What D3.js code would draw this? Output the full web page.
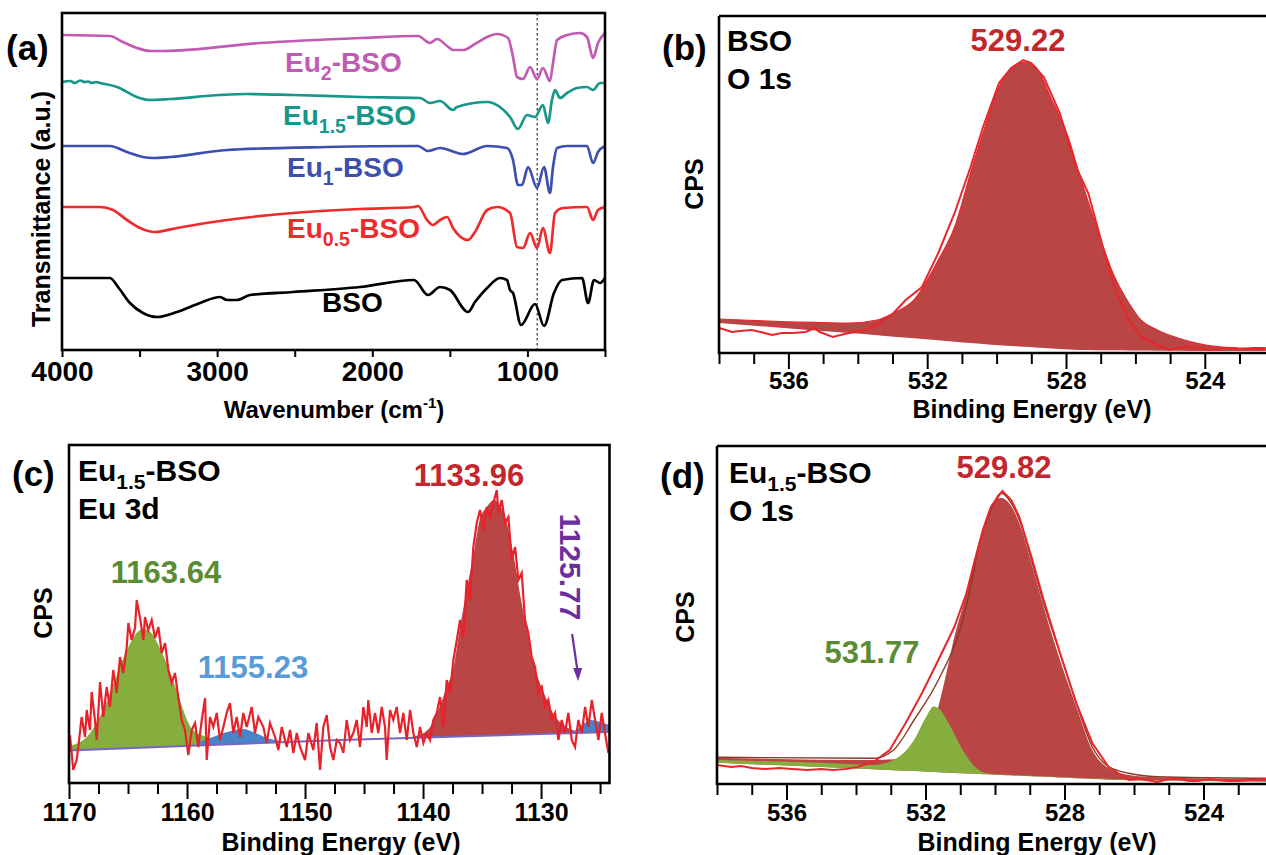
<!DOCTYPE html>
<html>
<head>
<meta charset="utf-8">
<script src="https://cdn.jsdelivr.net/npm/d3@7"></script>
<style>
  body { margin: 0; background: #fff; }
  svg text { font-family: "Liberation Sans", Arial, Helvetica, sans-serif; font-weight: bold; }
</style>
</head>
<body>
<svg id="fig" width="1266" height="855"></svg>
<script>
// ---------- (a) FTIR spectra: [wavenumber cm-1, transmittance a.u. (stacked)] ----------
const ftirEu2 = [[4000,315],[3691,314],[3607,308],[3517,302],[3433,299],[3349,299],[2724,307],[2079,312],[1705,314],[1628,307],[1583,311],[1518,304],[1480,300],[1415,300],[1338,306],[1260,313],[1196,316],[1125,312],[1093,293],[1067,273],[1028,271],[983,283],[938,271],[900,282],[855,269],[835,287],[809,310],[745,315],[661,317],[616,313],[577,292],[545,307],[500,317]];
const ftirEu15 = [[4000,268],[3948,269],[3916,267],[3884,269.5],[3852,268],[3832,268.5],[3807,267],[3781,268],[3755,267],[3645,263],[3517,253],[3433,250],[3304,251],[2982,255],[2808,256],[2511,255],[2079,253],[1692,252],[1628,247],[1563,249],[1480,240],[1454,243],[1260,248],[1177,243],[1112,233],[1061,221],[1003,235],[951,233],[900,245],[867,227],[842,250],[822,260],[790,252],[745,257],[680,262],[616,263],[577,260],[532,267],[500,267]];
const ftirEu1 = [[4000,204],[3691,204],[3581,198],[3478,193],[3413,192],[3304,193],[2936,200],[2292,203],[1705,204],[1641,199],[1563,202],[1415,196],[1260,204],[1132,202],[1093,190],[1061,165],[1035,165],[996,183],[938,162],[893,183],[855,157],[835,183],[809,202],[745,204],[616,204],[577,187],[545,198],[500,204]];
const ftirEu05 = [[4000,143],[3755,143],[3671,140],[3581,130],[3497,122],[3401,118],[3259,122],[2936,130],[2511,137],[2079,141],[1731,143],[1705,144],[1647,130],[1609,125],[1563,130],[1518,133],[1480,122],[1383,110],[1338,118],[1260,140],[1196,143],[1112,137],[1067,103],[1028,102],[983,117],[938,102],[900,122],[855,97],[822,137],[771,142],[616,143],[577,130],[545,140],[500,143]];
const ftirBSO = [[4000,72],[3691,72],[3639,63],[3562,47],[3478,37],[3388,33],[3259,38],[3110,47],[2982,53],[2936,50],[2872,50],[2788,55],[2511,58],[2079,63],[1731,70],[1641,55],[1563,63],[1499,60],[1383,38],[1338,48],[1260,62],[1177,72],[1132,70],[1112,60],[1093,57],[1041,25],[951,46],[893,24],[829,57],[777,70],[648,72],[609,47],[571,70],[532,67],[500,72]];
const ftirMarker = 937;
const ftirMajorTicks = [4000, 3000, 2000, 1000];
const ftirMinorTicks = [3500, 2500, 1500, 500];

// ---------- (b) BSO O 1s ----------
const bsoO1sBackground = [[538.0,30],[533.55,18],[530.05,8],[527.71,3],[523.97,2],[522.24,2]];
const bsoO1sFit = [[538.0,34],[534.25,30],[533.44,33],[532.97,40],[532.38,53],[531.68,93],[531.21,126],[530.75,180],[530.39,220],[529.93,266],[529.46,288],[529.22,291],[528.88,286],[528.41,253],[527.94,216],[527.59,176],[527.12,126],[526.65,80],[526.19,50],[525.84,33],[525.37,23],[524.78,15],[523.97,8],[523.03,5],[522.24,4]];
const bsoO1sRaw = [[538.0,25],[537.8,23],[537.64,21],[537.4,22],[537.06,23],[536.8,21],[536.47,18],[536.2,20],[535.89,20],[535.5,21],[535.25,25],[535.1,21],[534.72,16],[534.5,18],[534.25,20],[533.79,23],[533.32,31],[532.97,40],[532.62,53],[532.15,66],[531.68,100],[531.21,140],[530.75,186],[530.39,226],[529.93,270],[529.58,285],[529.23,293],[529.0,290],[528.64,276],[528.18,240],[527.71,186],[527.36,160],[526.89,100],[526.54,60],[526.19,33],[525.84,16],[525.49,10],[525.02,3],[524.6,6],[524.2,5],[523.8,3],[523.4,5],[523.0,4],[522.6,5],[522.24,5]];

// ---------- (c) Eu1.5-BSO Eu 3d ----------
const eu3dBackground = [[1170,32.5],[1147,43],[1124.2,51]];
const eu3dPeak1163 = [[1170,37],[1168.5,46],[1167.4,66],[1166.5,90],[1165.7,116],[1164.8,140],[1164.2,151],[1163.64,154],[1163.1,151],[1162.3,135],[1161.4,110],[1160.6,83],[1160.0,63],[1159.5,53],[1158.3,46],[1157.2,43],[1156,41.5]];
const eu3dPeak1155 = [[1159,41],[1157.8,46],[1156.6,51],[1155.23,54],[1154.4,51],[1153.2,45],[1152.1,42]];
const eu3dPeak1134 = [[1141.5,45.5],[1140.3,48],[1139.4,56],[1138.6,76],[1138.0,96],[1137.4,116],[1136.9,153],[1136.3,193],[1135.7,230],[1135.2,263],[1134.6,276],[1133.96,283],[1133.5,278],[1132.9,260],[1132.3,226],[1131.8,190],[1131.2,153],[1130.7,123],[1130.1,100],[1129.5,83],[1129.0,70],[1128.1,58],[1127.0,52],[1126.0,50.8]];
const eu3dPeak1126 = [[1128,49.8],[1127,53],[1126.3,60],[1125.77,63],[1125,61],[1124.2,58]];
const eu3dRaw = [[1169.92,48],[1169.64,13],[1169.35,23],[1169.21,36],[1168.93,66],[1168.64,46],[1168.5,73],[1168.22,53],[1168.08,91],[1167.8,63],[1167.65,43],[1167.37,101],[1167.09,66],[1166.81,96],[1166.53,76],[1166.25,113],[1165.96,90],[1165.68,126],[1165.4,110],[1165.11,136],[1164.97,160],[1164.69,143],[1164.41,155],[1164.26,183],[1163.98,165],[1163.7,143],[1163.56,166],[1163.28,153],[1162.99,163],[1162.71,145],[1162.43,156],[1162.14,130],[1161.86,140],[1161.58,113],[1161.3,100],[1161.02,110],[1160.74,86],[1160.45,63],[1160.17,53],[1159.89,28],[1159.6,53],[1159.32,60],[1159.04,36],[1158.75,63],[1158.47,85],[1158.33,23],[1158.05,66],[1157.77,56],[1157.48,70],[1157.2,43],[1156.92,56],[1156.64,70],[1156.36,80],[1156.08,50],[1155.79,66],[1155.51,46],[1155.23,70],[1154.94,56],[1154.52,76],[1154.24,50],[1153.96,66],[1153.53,56],[1153.25,40],[1152.97,60],[1152.54,46],[1152.26,33],[1151.97,56],[1151.55,36],[1151.27,53],[1150.99,30],[1150.7,50],[1150.42,36],[1150.0,23],[1149.72,50],[1149.3,33],[1149.01,60],[1148.73,13],[1148.45,56],[1148.16,68],[1147.88,36],[1147.6,23],[1147.31,43],[1147.03,40],[1146.75,30],[1146.47,63],[1146.19,43],[1145.91,50],[1145.62,63],[1145.34,36],[1145.06,76],[1144.77,56],[1144.64,83],[1144.35,50],[1144.07,70],[1143.79,50],[1143.5,76],[1143.22,56],[1143.08,23],[1142.8,73],[1142.52,63],[1142.23,76],[1141.95,50],[1141.67,70],[1141.38,43],[1141.1,73],[1140.82,50],[1140.53,36],[1140.25,56],[1139.97,40],[1139.69,50],[1139.41,43],[1139.13,63],[1138.84,70],[1138.56,86],[1138.28,56],[1137.99,103],[1137.71,90],[1137.43,123],[1137.14,143],[1136.86,163],[1136.58,146],[1136.3,203],[1136.02,183],[1135.74,236],[1135.45,260],[1135.17,273],[1134.89,253],[1134.6,276],[1134.32,266],[1134.04,280],[1133.75,293],[1133.62,270],[1133.33,283],[1133.05,260],[1132.77,266],[1132.48,223],[1132.2,236],[1131.92,203],[1131.64,210],[1131.36,163],[1131.08,150],[1130.79,126],[1130.51,116],[1130.23,90],[1129.94,96],[1129.66,76],[1129.38,83],[1129.09,63],[1128.81,70],[1128.53,43],[1128.25,63],[1127.97,50],[1127.69,70],[1127.4,43],[1127.12,36],[1126.84,63],[1126.55,50],[1126.27,76],[1125.99,56],[1125.7,83],[1125.42,63],[1125.14,43],[1124.86,70],[1124.58,50],[1124.3,30]];

// ---------- (d) Eu1.5-BSO O 1s ----------
const euO1sBackground = [[538.0,21.3],[533.5,14.7],[530.0,9.3],[526.5,4],[522.2,2.3]];
const euO1sPeak529 = [[538.0,26.3],[533.5,24],[532.33,26.7],[531.87,47.3],[531.63,77.3],[531.4,110.7],[531.17,147.3],[530.93,177.3],[530.7,207.3],[530.47,237.3],[530.23,267.3],[530.0,284],[529.82,286],[529.59,280.7],[529.3,260.7],[528.95,220.7],[528.6,177.3],[528.13,124],[527.66,77.3],[527.2,34],[526.73,15.7],[526.15,9],[525.33,6.7],[522.2,4.7]];
const euO1sPeak531 = [[538.0,24],[534.67,20.7],[533.5,19],[532.92,24],[532.33,44],[531.98,67.3],[531.77,77.5],[531.63,75.7],[531.28,57.3],[530.93,34],[530.58,17.3],[530.23,10.7],[529.42,9],[527.66,6.2],[522.2,2.3]];
const euO1sEnvelope = [[538.0,26.7],[533.5,25.7],[532.92,34],[532.33,64],[531.63,104],[530.93,164],[530.7,197.3],[530.47,237.3],[530.12,274],[529.82,290.7],[529.53,280.7],[529.3,264],[528.95,224],[528.6,180.7],[528.13,130.7],[527.66,80.7],[527.2,37.3],[526.73,17.3],[526.15,10.7],[525.33,7.3],[522.2,5.7]];
const euO1sRaw = [[538.0,19],[537.8,18],[537.59,17],[537.3,18],[537.0,16],[536.6,15],[536.2,16],[535.84,15],[535.4,14],[535.0,15],[534.67,14],[534.3,15],[533.97,17],[533.5,22],[533.03,34],[532.57,61],[532.1,91],[531.63,124],[531.17,157],[530.82,191],[530.58,224],[530.35,254],[530.12,277],[529.79,293],[529.53,284],[529.3,267],[528.95,227],[528.6,184],[528.13,131],[527.66,81],[527.2,41],[526.73,17],[526.38,9],[526.15,4],[525.8,5],[525.33,2],[525.0,5],[524.75,5],[524.4,3],[524.16,3],[523.8,5],[523.58,4],[523.3,3],[523.0,3],[522.6,4],[522.2,5]];

const o1sMajorTicks = [536, 532, 528, 524];
const o1sMinorTicks = [538, 537, 535, 534, 533, 531, 530, 529, 527, 526, 525, 523];
const eu3dMajorTicks = [1170, 1160, 1150, 1140, 1130];
const eu3dMinorTicks = [1167.5, 1165, 1162.5, 1157.5, 1155, 1152.5, 1147.5, 1145, 1142.5, 1137.5, 1135, 1132.5, 1127.5, 1125];

// ---------- drawing helpers ----------
const W = 1266, H = 855;
const FONT = '"Liberation Sans", Arial, sans-serif';
const svg = d3.select("#fig");
svg.append("rect").attr("width", W).attr("height", H).attr("fill", "#fff");

// linear lookup in a [x, y] table (background under fitted peaks)
function lookup(table, xv) {
  const s = table.slice().sort((a, b) => a[0] - b[0]);
  if (xv <= s[0][0]) return s[0][1];
  for (let i = 1; i < s.length; i++) {
    if (xv <= s[i][0]) {
      const t = (xv - s[i - 1][0]) / (s[i][0] - s[i - 1][0]);
      return s[i - 1][1] + t * (s[i][1] - s[i - 1][1]);
    }
  }
  return s[s.length - 1][1];
}

function bottomAxis(g, x, y0, major, minor, cfg) {
  const styleLines = s => s.selectAll("line").attr("stroke", "#000").attr("stroke-width", 2);
  g.append("g").attr("transform", `translate(0,${y0})`)
    .call(d3.axisBottom(x).tickValues(minor).tickSize(cfg.minorLen).tickFormat(""))
    .call(s => s.select(".domain").remove()).call(styleLines);
  g.append("g").attr("transform", `translate(0,${y0})`)
    .call(d3.axisBottom(x).tickValues(major).tickSize(cfg.majorLen).tickPadding(cfg.pad).tickFormat(d3.format("d")))
    .call(s => s.select(".domain").remove()).call(styleLines)
    .call(s => s.selectAll("text")
      .attr("font-size", cfg.fs).attr("fill", "#000")
      .attr("font-family", FONT).attr("font-weight", "bold"));
}

function text(g, x, y, str, opts = {}) {
  return g.append("text").attr("x", x).attr("y", y)
    .attr("font-size", opts.fs || 28).attr("fill", opts.color || "#000")
    .attr("text-anchor", opts.anchor || "start").text(str);
}

// label with a subscript part, e.g. Eu + "1.5" + "-BSO"
function subLabel(g, x, y, main, sub, rest, opts = {}) {
  const fs = opts.fs || 28;
  const t = g.append("text").attr("x", x).attr("y", y)
    .attr("font-size", fs).attr("fill", opts.color || "#000")
    .attr("text-anchor", opts.anchor || "start");
  t.append("tspan").text(main);
  t.append("tspan").attr("font-size", fs * 0.7).attr("dy", fs * 0.28).text(sub);
  t.append("tspan").attr("dy", -fs * 0.28).text(rest);
  return t;
}

function vTitle(g, cx, cy, str, fs) {
  g.append("text").attr("transform", `translate(${cx},${cy}) rotate(-90)`)
    .attr("text-anchor", "middle").attr("dominant-baseline", "central")
    .attr("font-size", fs).attr("fill", "#000").text(str);
}

const smoothLine = (x, y) => d3.line().curve(d3.curveMonotoneX).x(d => x(d[0])).y(d => y(d[1]));
const rawLine = (x, y) => d3.line().x(d => x(d[0])).y(d => y(d[1]));
const areaOf = (x, y, base) => d3.area().curve(d3.curveMonotoneX)
  .x(d => x(d[0])).y0(d => y(lookup(base, d[0]))).y1(d => y(d[1]));

// ================= (a) FTIR =================
{
  const g = svg.append("g");
  const L = 62, R = 605, T = 13, B = 350;
  const x = d3.scaleLinear().domain([4000, 500]).range([L, R]);
  const y = d3.scaleLinear().domain([0, 337]).range([B, T]);

  g.append("line").attr("x1", x(ftirMarker)).attr("x2", x(ftirMarker)).attr("y1", T).attr("y2", B)
    .attr("stroke", "#333").attr("stroke-width", 1.2).attr("stroke-dasharray", "2.5,2.5");

  const series = [
    { data: ftirEu2, color: "#c25ab4" },
    { data: ftirEu15, color: "#17968a" },
    { data: ftirEu1, color: "#3c50b0" },
    { data: ftirEu05, color: "#ef2b2b" },
    { data: ftirBSO, color: "#000000" }
  ];
  series.forEach(s => g.append("path").datum(s.data).attr("d", smoothLine(x, y))
    .attr("fill", "none").attr("stroke", s.color).attr("stroke-width", 2.7).attr("stroke-linejoin", "round"));

  g.append("rect").attr("x", L).attr("y", T).attr("width", R - L).attr("height", B - T)
    .attr("fill", "none").attr("stroke", "#000").attr("stroke-width", 2.6);
  bottomAxis(g, x, B, ftirMajorTicks, ftirMinorTicks, { majorLen: 7, minorLen: 7, pad: 4, fs: 28 });

  subLabel(g, 285, 72, "Eu", "2", "-BSO", { color: "#c25ab4" });
  subLabel(g, 283, 125, "Eu", "1.5", "-BSO", { color: "#17968a" });
  subLabel(g, 287, 177, "Eu", "1", "-BSO", { color: "#3c50b0" });
  subLabel(g, 287, 238, "Eu", "0.5", "-BSO", { color: "#ef2b2b" });
  text(g, 322, 312, "BSO");

  text(g, 6, 60, "(a)", { fs: 35 });
  vTitle(g, 41, 209, "Transmittance (a.u.)", 25);
  const t = g.append("text").attr("x", 334).attr("y", 418).attr("text-anchor", "middle").attr("font-size", 24);
  t.append("tspan").text("Wavenumber (cm");
  t.append("tspan").attr("font-size", 15).attr("dy", -10).text("-1");
  t.append("tspan").attr("dy", 10).text(")");
}

// ================= (b) BSO O 1s =================
{
  const g = svg.append("g");
  const L = 719, T = 16, B = 353;
  const x = d3.scaleLinear().domain([538, 522]).range([L, L + 16 * 34.7]);
  const y = d3.scaleLinear().domain([0, 337]).range([B, T]);
  g.append("clipPath").attr("id", "clipB")
    .append("rect").attr("x", L).attr("y", T).attr("width", W - L).attr("height", B - T);
  const plot = g.append("g").attr("clip-path", "url(#clipB)");

  plot.append("path").datum(bsoO1sFit).attr("d", areaOf(x, y, bsoO1sBackground)).attr("fill", "#b94545");
  plot.append("path").datum(bsoO1sFit).attr("d", smoothLine(x, y)).attr("fill", "none").attr("stroke", "#e8262b").attr("stroke-width", 1.2);
  plot.append("path").datum(bsoO1sRaw).attr("d", rawLine(x, y)).attr("fill", "none").attr("stroke", "#e8262b").attr("stroke-width", 2);

  g.append("path").attr("d", `M${L},${T}H${W}M${L},${T}V${B}H${W}`).attr("fill", "none").attr("stroke", "#000").attr("stroke-width", 2.6);
  bottomAxis(g, x, B, o1sMajorTicks, o1sMinorTicks, { majorLen: 16, minorLen: 11, pad: 3, fs: 24 });

  text(g, 662, 60, "(b)", { fs: 35 });
  text(g, 727, 51, "BSO", { fs: 30 });
  text(g, 727, 89, "O 1s", { fs: 30 });
  text(g, 1018, 51, "529.22", { fs: 31, color: "#c1272d", anchor: "middle" });
  vTitle(g, 694, 184, "CPS", 25);
  text(g, 1032, 418, "Binding Energy (eV)", { fs: 25, anchor: "middle" });
}

// ================= (c) Eu1.5-BSO Eu 3d =================
{
  const g = svg.append("g");
  const L = 69, R = 609.5, T = 445, B = 783;
  const x = d3.scaleLinear().domain([1170, 1124.2]).range([L, R]);
  const y = d3.scaleLinear().domain([0, 338]).range([B, T]);
  g.append("clipPath").attr("id", "clipC")
    .append("rect").attr("x", L).attr("y", T).attr("width", R - L).attr("height", B - T);
  const plot = g.append("g").attr("clip-path", "url(#clipC)");

  plot.append("path").datum(eu3dPeak1163).attr("d", areaOf(x, y, eu3dBackground)).attr("fill", "#86ae3f");
  plot.append("path").datum(eu3dPeak1155).attr("d", areaOf(x, y, eu3dBackground)).attr("fill", "#4a84c8");
  plot.append("path").datum(eu3dPeak1134).attr("d", areaOf(x, y, eu3dBackground)).attr("fill", "#b94545");
  plot.append("path").datum(eu3dPeak1126).attr("d", areaOf(x, y, eu3dBackground)).attr("fill", "#4a84c8");
  plot.append("path").datum(eu3dBackground).attr("d", rawLine(x, y)).attr("fill", "none").attr("stroke", "#7566c2").attr("stroke-width", 2);
  plot.append("path").datum(eu3dRaw).attr("d", rawLine(x, y)).attr("fill", "none").attr("stroke", "#e8222a").attr("stroke-width", 2.2);

  g.append("rect").attr("x", L).attr("y", T).attr("width", R - L).attr("height", B - T)
    .attr("fill", "none").attr("stroke", "#000").attr("stroke-width", 2.6);
  bottomAxis(g, x, B, eu3dMajorTicks, eu3dMinorTicks, { majorLen: 16, minorLen: 11, pad: 4, fs: 25 });

  text(g, 12, 486, "(c)", { fs: 35 });
  subLabel(g, 78, 481, "Eu", "1.5", "-BSO", { fs: 30 });
  text(g, 78, 519, "Eu 3d", { fs: 30 });
  text(g, 469, 486, "1133.96", { fs: 31, color: "#c1272d", anchor: "middle" });
  text(g, 166, 583, "1163.64", { fs: 31, color: "#5b8c34", anchor: "middle" });
  text(g, 253, 678, "1155.23", { fs: 31, color: "#5b9bd5", anchor: "middle" });
  g.append("text").attr("transform", "translate(570,567) rotate(90)")
    .attr("text-anchor", "middle").attr("dominant-baseline", "central")
    .attr("font-size", 30).attr("fill", "#6b2fa0").text("1125.77");
  // arrow pointing at the 1125.77 component
  const a0 = [x(1127.37), y(149)], a1 = [x(1126.86), y(102)];
  g.append("line").attr("x1", a0[0]).attr("y1", a0[1]).attr("x2", a1[0] - 0.4).attr("y2", a1[1] - 9)
    .attr("stroke", "#6b2fa0").attr("stroke-width", 2.2);
  g.append("path").attr("d", `M${a1[0]},${a1[1]}L${a1[0] - 5},${a1[1] - 13}L${a1[0] + 4},${a1[1] - 13}Z`).attr("fill", "#6b2fa0");
  vTitle(g, 43, 613, "CPS", 25);
  text(g, 341, 851, "Binding Energy (eV)", { fs: 25, anchor: "middle" });
}

// ================= (d) Eu1.5-BSO O 1s =================
{
  const g = svg.append("g");
  const L = 717, T = 446, B = 784;
  const x = d3.scaleLinear().domain([538, 522]).range([L, L + 16 * 34.75]);
  const y = d3.scaleLinear().domain([0, 338]).range([B, T]);
  g.append("clipPath").attr("id", "clipD")
    .append("rect").attr("x", L).attr("y", T).attr("width", W - L).attr("height", B - T);
  const plot = g.append("g").attr("clip-path", "url(#clipD)");

  plot.append("path").datum(euO1sPeak529).attr("d", areaOf(x, y, euO1sBackground)).attr("fill", "#b94545");
  plot.append("path").datum(euO1sPeak531).attr("d", areaOf(x, y, euO1sBackground)).attr("fill", "#86ae3f");
  plot.append("path").datum(euO1sEnvelope).attr("d", smoothLine(x, y)).attr("fill", "none").attr("stroke", "#8a3a22").attr("stroke-width", 1.4);
  plot.append("path").datum(euO1sRaw).attr("d", rawLine(x, y)).attr("fill", "none").attr("stroke", "#e8262b").attr("stroke-width", 2);

  g.append("path").attr("d", `M${L},${T}H${W}M${L},${T}V${B}H${W}`).attr("fill", "none").attr("stroke", "#000").attr("stroke-width", 2.6);
  bottomAxis(g, x, B, o1sMajorTicks, o1sMinorTicks, { majorLen: 16, minorLen: 11, pad: 4, fs: 24 });

  text(g, 660, 488, "(d)", { fs: 35 });
  subLabel(g, 729, 483, "Eu", "1.5", "-BSO", { fs: 30 });
  text(g, 729, 521, "O 1s", { fs: 30 });
  text(g, 1004, 478, "529.82", { fs: 31, color: "#c1272d", anchor: "middle" });
  text(g, 872, 663, "531.77", { fs: 31, color: "#5b8c34", anchor: "middle" });
  vTitle(g, 685, 617, "CPS", 25);
  text(g, 1037, 851, "Binding Energy (eV)", { fs: 25, anchor: "middle" });
}
</script>
</body>
</html>
